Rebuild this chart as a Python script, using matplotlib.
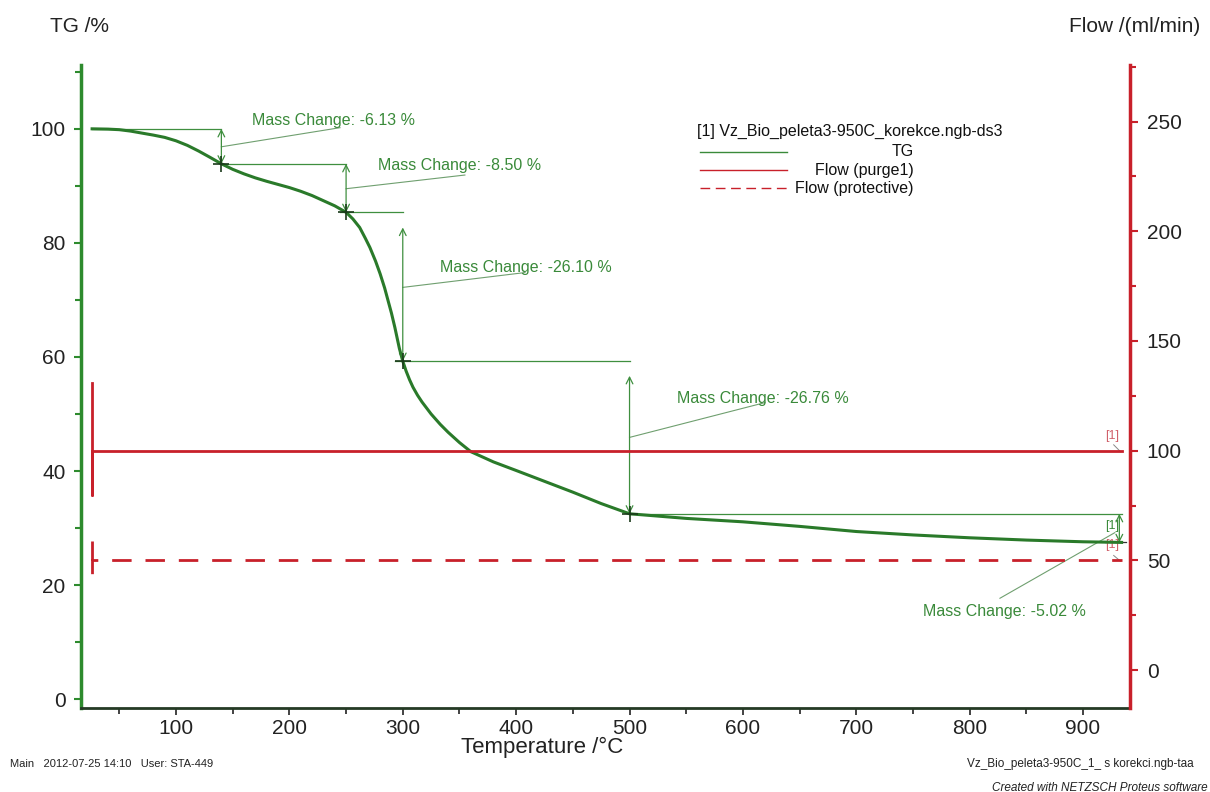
import matplotlib
matplotlib.use("Agg")
import matplotlib.pyplot as plt
import numpy as np

plt.rcParams['font.family'] = ['Liberation Sans', 'DejaVu Sans']

# ---- data ----
temps = [26, 40, 50, 60, 70, 80, 90, 100, 110, 120, 130, 140, 150, 160, 170, 180, 190, 200,
         210, 220, 230, 240, 250, 256, 262, 267, 271, 276, 280, 284, 287, 290, 293, 297, 300,
         303, 306, 309, 313, 317, 325, 333, 340, 350, 360, 380, 400, 425, 450, 475, 500, 550,
         600, 650, 700, 750, 800, 850, 900, 934]
tg = [100.0, 99.95, 99.85, 99.6, 99.25, 98.9, 98.5, 97.9, 97.1, 96.1, 95.0, 93.87, 92.9, 92.1,
      91.4, 90.8, 90.25, 89.7, 89.05, 88.3, 87.4, 86.5, 85.37, 84.2, 82.7, 80.8, 79.2, 76.8,
      74.6, 72.1, 69.9, 67.7, 65.2, 61.5, 59.27, 57.5, 56.0, 54.7, 53.3, 52.1, 50.0, 48.2,
      46.8, 45.0, 43.4, 41.6, 40.1, 38.2, 36.3, 34.3, 32.51, 31.7, 31.1, 30.3, 29.4, 28.8,
      28.3, 27.9, 27.6, 27.49]

flow_purge_t = [26, 26, 26, 934]
flow_purge = [131, 80, 100, 100]
flow_prot_t = [26, 26, 26, 934]
flow_prot = [59, 44, 50, 50]

# mass-change steps
step_T = [140, 250, 300, 500, 932]
step_top = [100.0, 93.87, 85.37, 59.27, 32.51]
step_bot = [93.87, 85.37, 59.27, 32.51, 27.49]
step_labels = ["Mass Change: -6.13 %", "Mass Change: -8.50 %", "Mass Change: -26.10 %",
               "Mass Change: -26.76 %", "Mass Change: -5.02 %"]

GREEN = '#2a7a2a'
LGREEN = '#3f8f3f'
RED = '#c8202a'

fig = plt.figure(figsize=(12.1, 7.92), dpi=100)
ax = fig.add_axes([81 / 1210, 0.106, (1130 - 81) / 1210, 0.812])
ax2 = ax.twinx()

ax.set_xlim(16.2, 941.4)
ax.set_ylim(-1.55, 111.2)
ax2.set_ylim(-17.3, 275.8)

# main curve
ax.plot(temps, tg, color=GREEN, lw=2.2, zorder=5, solid_joinstyle='round')

# flow curves
ax2.plot(flow_purge_t, flow_purge, color=RED, lw=2.0)
ax2.plot(flow_prot_t, flow_prot, color=RED, lw=2.0, dashes=(7, 5))

# spines
ax.spines['top'].set_visible(False)
ax2.spines['top'].set_visible(False)
ax.spines['left'].set_color('#2e8b2e')
ax.spines['left'].set_linewidth(2.5)
ax.spines['right'].set_visible(False)
ax2.spines['left'].set_visible(False)
ax2.spines['bottom'].set_visible(False)
ax2.spines['right'].set_color(RED)
ax2.spines['right'].set_linewidth(2.5)
ax.spines['bottom'].set_color('#253a25')
ax.spines['bottom'].set_linewidth(2.0)

ax.set_xticks(range(100, 901, 100))
ax.set_xticks(range(50, 941, 50), minor=True)
ax.set_yticks(range(0, 101, 20))
ax.set_yticks(range(10, 111, 20), minor=True)
ax2.set_yticks(range(0, 251, 50))
ax2.set_yticks(range(0, 276, 25), minor=True)

ax.tick_params(axis='x', which='major', length=5, width=1.2, colors='#222222', labelsize=15, pad=3)
ax.tick_params(axis='x', which='minor', length=4, width=1.2, colors='#222222')
ax.tick_params(axis='y', which='major', length=5, width=1.5, color='#2e8b2e', labelcolor='#222222', labelsize=15, pad=6)
ax.tick_params(axis='y', which='minor', length=4, width=1.5, color='#2e8b2e')
ax2.tick_params(axis='y', which='major', length=6, width=1.5, color=RED, labelcolor='#222222', labelsize=15, pad=6)
ax2.tick_params(axis='y', which='minor', length=4, width=1.5, color=RED)

# step annotations
hl = dict(color=LGREEN, lw=0.9)
ax.plot([26, 140], [100.0, 100.0], **hl)
ax.plot([140, 250], [93.87, 93.87], **hl)
ax.plot([245, 300], [85.37, 85.37], **hl)
ax.plot([293, 500], [59.27, 59.27], **hl)
ax.plot([500, 934], [32.51, 32.51], **hl)
ax.plot([919, 938], [27.49, 27.49], color='#333333', lw=0.9)

arrow_tops = [100.0, 93.87, 82.7, 56.7, 32.51]
for T, top, bot in zip(step_T, arrow_tops, step_bot):
    ax.annotate('', xy=(T, bot), xytext=(T, top),
                arrowprops=dict(arrowstyle='<->', color=LGREEN, lw=0.9,
                                mutation_scale=12, shrinkA=0, shrinkB=0))
cross_T = [140, 250, 300, 500]
cross_v = [93.87, 85.37, 59.27, 32.51]
ax.plot(cross_T, cross_v, linestyle='none', marker='+', color='#1a3a1a', ms=12, mew=1.2, zorder=6)

text_pos = [(167, 101.4), (278, 93.5), (332.8, 75.7), (541.8, 52.7), (758.7, 15.4)]
leaders = [((140, 96.85), (244.6, 100.2)),
           ((250, 89.5), (354.8, 91.9)),
           ((300, 72.2), (407.8, 74.8)),
           ((500, 45.9), (619.4, 52.0)),
           ((826.7, 17.7), (928, 29.2))]
for (tx, ty), lab, (p0, p1) in zip(text_pos, step_labels, leaders):
    ax.text(tx, ty, lab, color='#3a8a3a', fontsize=11.5, va='center', ha='left')
    ax.plot([p0[0], p1[0]], [p0[1], p1[1]], color='#6f9f6f', lw=0.8)

# [1] curve markers
ax.text(925.4, 46.1, '[1]', color='#d0606a', fontsize=9, ha='center', va='center')
ax.plot([927, 933], [44.6, 43.4], color='#888888', lw=0.7)
ax.text(925.4, 30.3, '[1]', color='#3a8a3a', fontsize=9, ha='center', va='center')
ax.text(925.4, 27.0, '[1]', color='#d0606a', fontsize=9, ha='center', va='center')
ax.plot([927, 933], [25.2, 24.2], color='#888888', lw=0.7)

# legend (figure coords)
def fx(px):
    return px / 1210
def fy(py):
    return 1 - py / 792
fig.text(fx(697), fy(131), '[1] Vz_Bio_peleta3-950C_korekce.ngb-ds3', fontsize=11.5, color='#111111', va='center')
leg_items = [('TG', '#3a8a3a', '-'), ('Flow (purge1)', RED, '-'), ('Flow (protective)', RED, '--')]
for i, (lab, col, ls) in enumerate(leg_items):
    y = 152 + 18 * i
    line = plt.Line2D([fx(700), fx(787)], [fy(y), fy(y)], color=col, lw=1.0,
                      linestyle=ls, transform=fig.transFigure)
    if ls == '--':
        line.set_dashes((7, 4))
    fig.add_artist(line)
    fig.text(fx(914), fy(y), lab, fontsize=11.5, color='#111111', va='center', ha='right')

# axis titles
fig.text(fx(50), fy(27), 'TG /%', fontsize=15, color='#222222', va='center', ha='left')
fig.text(fx(1200), fy(27), 'Flow /(ml/min)', fontsize=15, color='#222222', va='center', ha='right')
fig.text(fx(542), fy(747), 'Temperature /°C', fontsize=16, color='#222222', va='center', ha='center')

# footer
fig.text(fx(10), fy(764), 'Main   2012-07-25 14:10   User: STA-449', fontsize=8, color='#222222', va='center')
fig.text(fx(1194), fy(764), 'Vz_Bio_peleta3-950C_1_ s korekci.ngb-taa', fontsize=8.5, color='#222222', va='center', ha='right')
fig.text(fx(1208), fy(788), 'Created with NETZSCH Proteus software', fontsize=8.5, color='#222222', va='center', ha='right', style='italic')

fig.savefig('out.png', dpi=100)
